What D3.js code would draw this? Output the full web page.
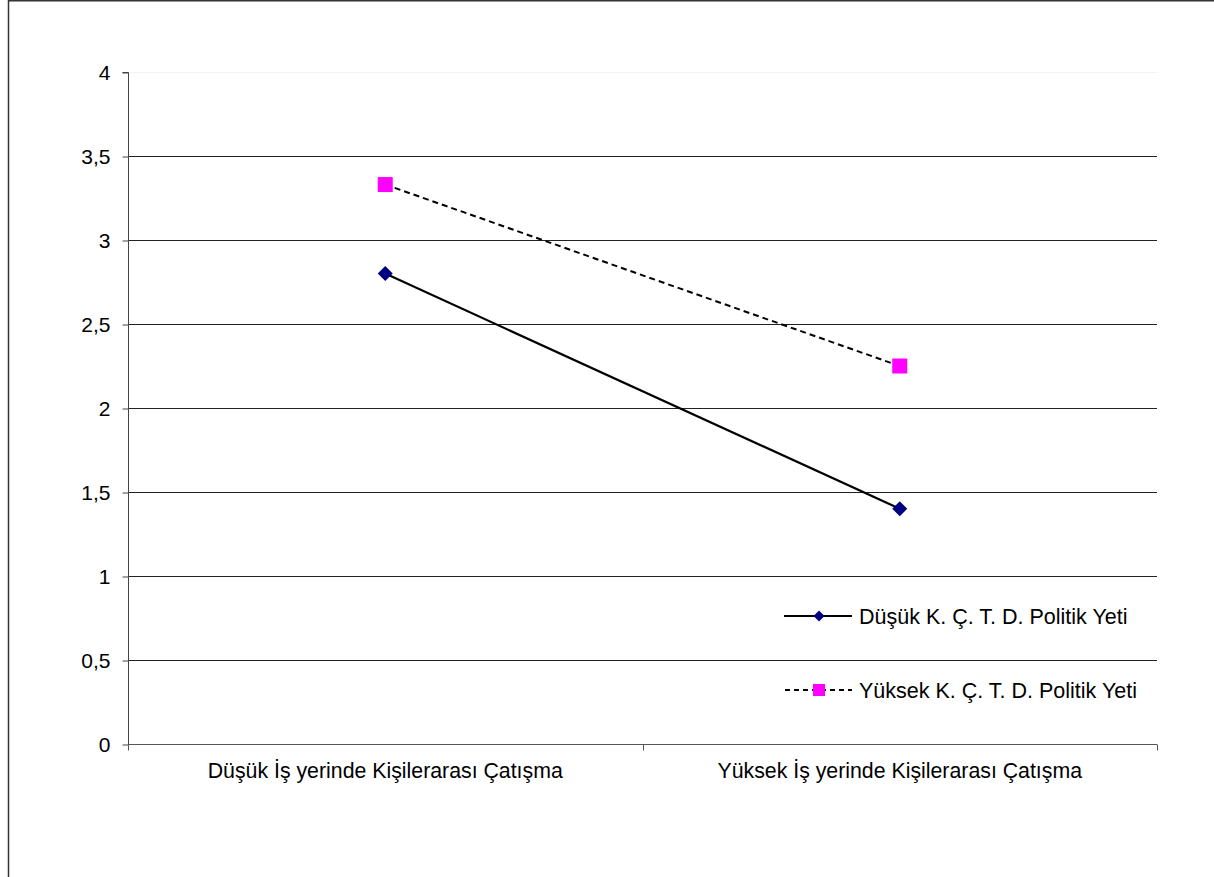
<!DOCTYPE html>
<html><head><meta charset="utf-8">
<script src="https://cdn.jsdelivr.net/npm/d3@7"></script>
<style>body{margin:0;background:#fff}svg{display:block;font-family:"Liberation Sans",Arial,sans-serif}</style>
</head><body><svg id="c" width="1214" height="877"></svg>
<script>
const categories = ["Düşük İş yerinde Kişilerarası Çatışma", "Yüksek İş yerinde Kişilerarası Çatışma"];
const seriesNames = ["Düşük K. Ç. T. D. Politik Yeti", "Yüksek K. Ç. T. D. Politik Yeti"];
const dusukValues = [2.8, 1.4];
const yuksekValues = [3.33, 2.25];
const yTicks = [0, 0.5, 1, 1.5, 2, 2.5, 3, 3.5, 4];
const yTickLabels = ["0", "0,5", "1", "1,5", "2", "2,5", "3", "3,5", "4"];

const svg = d3.select("#c");
// outer frame
svg.append("line").attr("x1",8.5).attr("x2",8.5).attr("y1",0).attr("y2",877).attr("stroke","#333").attr("stroke-width",1.5);
svg.append("line").attr("x1",8).attr("x2",1214).attr("y1",0.75).attr("y2",0.75).attr("stroke","#333").attr("stroke-width",1.5);

const L=128, R=1157, T=72, B=744;
const x = d3.scaleBand().domain(categories).range([L,R]);
const y = d3.scaleLinear().domain([0,4]).range([B,T]);

// gridlines
svg.append("g").selectAll("line").data(yTicks.filter(d=>d>0)).join("line")
  .attr("x1",L).attr("x2",R).attr("y1",d=>Math.round(y(d))+0.5).attr("y2",d=>Math.round(y(d))+0.5)
  .attr("stroke",d=>d===4?"#f2f2f2":"#222").attr("stroke-width",1);

// y axis
const yAxis = d3.axisLeft(y).tickValues(yTicks).tickFormat((d,i)=>yTickLabels[i]).tickSize(6).tickPadding(12);
const gy = svg.append("g").attr("transform",`translate(${L+0.5},0.5)`).call(yAxis);
gy.select(".domain").attr("stroke","#444").attr("d",`M-6,${T}H0V${B}`);
gy.selectAll(".tick line").attr("stroke","#444");
gy.selectAll("text").attr("font-size",21).attr("fill","#000").attr("font-family","Liberation Sans, Arial, sans-serif").attr("dy","0.35em");

// x axis
const gx = svg.append("g").attr("transform",`translate(0,${B+0.5})`);
gx.append("line").attr("x1",L).attr("x2",R).attr("stroke","#555");
const bounds = [L, L + x.bandwidth(), R];
gx.selectAll("line.t").data(bounds).join("line").attr("class","t")
  .attr("x1",d=>Math.round(d)+0.5).attr("x2",d=>Math.round(d)+0.5).attr("y1",0).attr("y2",6).attr("stroke","#555");
gx.selectAll("text").data(categories).join("text")
  .attr("x",d=>x(d)+x.bandwidth()/2).attr("y",33.5).attr("text-anchor","middle")
  .attr("font-size",21.3).attr("fill","#000").text(d=>d);

const cx = d=>x(d)+x.bandwidth()/2;
const line = d3.line().x((d,i)=>cx(categories[i])).y(d=>y(d));

svg.append("path").datum(dusukValues).attr("d",line).attr("fill","none").attr("stroke","#000").attr("stroke-width",2.2);
svg.append("path").datum(yuksekValues).attr("d",line).attr("fill","none").attr("stroke","#000").attr("stroke-width",2).attr("stroke-dasharray","6,4");

const diamond = (g, px, py, s) => g.append("path").attr("d",`M${px},${py-s}L${px+s},${py}L${px},${py+s}L${px-s},${py}Z`).attr("fill","#000080");
dusukValues.forEach((v,i)=>diamond(svg, cx(categories[i]), y(v), 7.5));
svg.append("g").selectAll("rect").data(yuksekValues).join("rect")
  .attr("x",(d,i)=>cx(categories[i])-7.5).attr("y",d=>y(d)-7.5).attr("width",15).attr("height",15).attr("fill","#ff00ff");

// legend
const lg = svg.append("g");
const ly = [616, 690];
lg.append("line").attr("x1",784).attr("x2",852).attr("y1",ly[0]).attr("y2",ly[0]).attr("stroke","#000").attr("stroke-width",2.2);
diamond(lg, 819, ly[0], 5.5);
lg.append("line").attr("x1",785).attr("x2",852).attr("y1",ly[1]).attr("y2",ly[1]).attr("stroke","#000").attr("stroke-width",2).attr("stroke-dasharray","5,4");
lg.append("rect").attr("x",813).attr("y",ly[1]-6).attr("width",12).attr("height",12).attr("fill","#ff00ff");
lg.selectAll("text").data(seriesNames).join("text")
  .attr("x",859).attr("y",(d,i)=>ly[i]).attr("dy","0.35em").attr("font-size",21.5).attr("fill","#000").text(d=>d);
</script></body></html>
